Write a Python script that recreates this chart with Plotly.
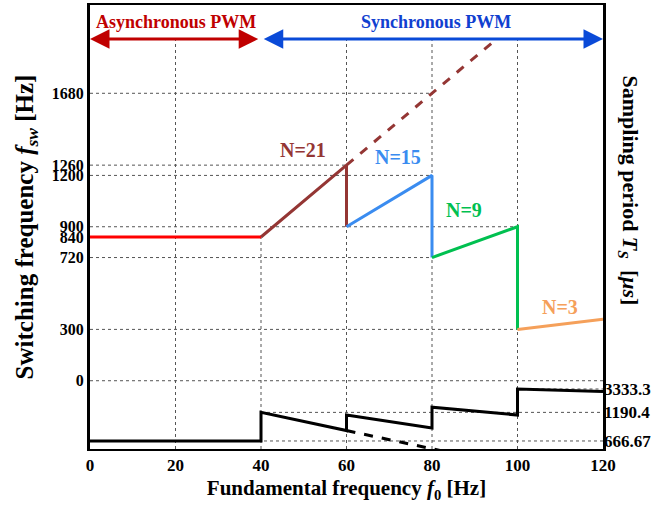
import plotly.graph_objects as go

# ---------------- data ----------------
x_ticks = [0, 20, 40, 60, 80, 100, 120]

# switching frequency segments (fundamental frequency [Hz], f_sw [Hz])
async_f = [0, 40]
async_fsw = [840, 840]
n21_f = [40, 60, 60]
n21_fsw = [840, 1260, 900]
n21_ext_f = [60, 94]
n21_ext_fsw = [1260, 1974]
n15_f = [60, 80, 80]
n15_fsw = [900, 1200, 720]
n9_f = [80, 100, 100]
n9_fsw = [720, 900, 300]
n3_f = [100, 120]
n3_fsw = [300, 360]

# sampling curve, expressed as sampling rate 1/T_S [Hz] (axis is linear in 1/T_S)
ts_f = [0, 40, 40, 60, 60, 80, 80, 100, 100, 120]
ts_rate = [1500, 1500, 840, 1260, 900, 1200, 720, 900, 300, 360]
ts_ext_f = [60, 85]
ts_ext_rate = [1260, 1785]

fsw_ticks = [0, 300, 720, 840, 900, 1200, 1260, 1680]
ts_tick_rates = [300, 840, 1500]
ts_tick_labels = ["3333.3", "1190.4", "666.67"]

# ---------------- styling ----------------
FONT = "Liberation Serif"
BROWN = "#943634"
BLUE_N = "#3a8cf0"
GREEN = "#00c050"
ORANGE = "#f5a05a"
RED = "#ff0000"
DARKRED = "#c00000"
ARROWBLUE = "#0a4ad8"

Y1_RANGE = [-399, 2196]
Y2_RANGE = [1685, -8562]

fig = go.Figure()

def seg(x, y, color, dash="solid", axis="y", width=3):
    fig.add_trace(go.Scatter(x=x, y=y, mode="lines", yaxis=axis,
                             line=dict(color=color, width=width, dash=dash),
                             showlegend=False, hoverinfo="skip"))

seg(n21_ext_f, n21_ext_fsw, BROWN, dash="dash")
seg(async_f, async_fsw, RED)
seg(n21_f, n21_fsw, BROWN)
seg(n15_f, n15_fsw, BLUE_N)
seg(n9_f, n9_fsw, GREEN)
seg(n3_f, n3_fsw, ORANGE)
seg(ts_ext_f, ts_ext_rate, "black", dash="dash", axis="y2")
seg(ts_f, ts_rate, "black", axis="y2")

# ---------------- grid lines (partial, dotted) ----------------
grid = dict(color="#555555", width=1, dash="dot")
hlines = [(1680, 0, 80), (1260, 0, 60), (1200, 0, 80), (900, 0, 100),
          (720, 0, 80), (300, 0, 100), (0, 0, 120)]
for yv, xa, xb in hlines:
    fig.add_shape(type="line", xref="x", yref="y", x0=xa, x1=xb, y0=yv, y1=yv,
                  line=grid, layer="below")
h2 = [(300, 100, 120), (840, 40, 120), (1500, 0, 120)]
for yv, xa, xb in h2:
    fig.add_shape(type="line", xref="x", yref="y2", x0=xa, x1=xb, y0=yv, y1=yv,
                  line=grid, layer="below")
vtop = 1991
for xv, ytop in [(20, vtop), (40, 840), (60, vtop), (80, vtop), (100, vtop)]:
    fig.add_shape(type="line", xref="x", yref="y", x0=xv, x1=xv, y0=Y1_RANGE[0], y1=ytop,
                  line=grid, layer="below")

# ---------------- arrows & labels ----------------
arrow_y = 1997
fig.add_annotation(x=0, y=arrow_y, ax=39.7, ay=arrow_y, xref="x", yref="y",
                   axref="x", ayref="y", text="", showarrow=True,
                   arrowside="end+start", arrowhead=2, arrowsize=1.3,
                   arrowwidth=3, arrowcolor=DARKRED, standoff=0, startstandoff=0)
fig.add_annotation(x=120, y=arrow_y, ax=40.3, ay=arrow_y, xref="x", yref="y",
                   axref="x", ayref="y", text="", showarrow=True,
                   arrowside="end+start", arrowhead=2, arrowsize=1.3,
                   arrowwidth=3, arrowcolor=ARROWBLUE, standoff=0, startstandoff=0)

def label(txt, x, y, color, size=20, yref="y"):
    fig.add_annotation(x=x, y=y, xref="x", yref=yref, text=txt, showarrow=False,
                       font=dict(family=FONT, size=size, color=color, weight="bold"))

label("Asynchronous PWM", 20.2, 2095, DARKRED, size=18)
label("Synchronous PWM", 81, 2095, "#1040d0", size=18)
label("N=21", 49.9, 1348, BROWN)
label("N=15", 72.1, 1307, BLUE_N)
label("N=9", 87.6, 998, GREEN)
label("N=3", 110, 430, ORANGE)

fig.add_annotation(x=1.05, y=0.583, xref="paper", yref="paper",
                   text="Sampling period <i>T<sub>S</sub></i>  [<i>μs</i>]",
                   textangle=90, showarrow=False, xanchor="center", yanchor="middle",
                   font=dict(family=FONT, size=22, color="black", weight="bold"))

# ---------------- layout ----------------
tickfont = dict(family=FONT, size=16, color="black", weight="bold")
fig.update_layout(
    width=671, height=510,
    margin=dict(l=90, r=68, t=5, b=61),
    paper_bgcolor="white", plot_bgcolor="white",
    showlegend=False,
    xaxis=dict(range=[0, 120], tickvals=x_ticks, ticks="", showgrid=False,
               zeroline=False, showline=True, mirror=True, linecolor="black",
               linewidth=2, tickfont=dict(family=FONT, size=17, color="black", weight="bold"),
               title=dict(text="Fundamental frequency <i>f</i><sub>0</sub> [Hz]",
                          font=dict(family=FONT, size=21, color="black", weight="bold"),
                          standoff=6),
               automargin=False),
    yaxis=dict(range=Y1_RANGE, tickvals=fsw_ticks, ticks="", showgrid=False,
               zeroline=False, showline=True, mirror=True, linecolor="black",
               linewidth=3, tickfont=tickfont,
               title=dict(text="Switching frequency <i>f<sub>sw</sub></i> [Hz]",
                          font=dict(family=FONT, size=25, color="black", weight="bold"),
                          standoff=12),
               automargin=False),
    yaxis2=dict(range=Y2_RANGE, overlaying="y", side="right", tickvals=ts_tick_rates,
                ticktext=ts_tick_labels, ticks="", showgrid=False, zeroline=False,
                showline=False, tickfont=dict(family=FONT, size=17, color="black", weight="bold"),
                automargin=False),
)

fig.write_html("out.html", config={"displayModeBar": False},
               post_script="document.body.style.margin='0';")
